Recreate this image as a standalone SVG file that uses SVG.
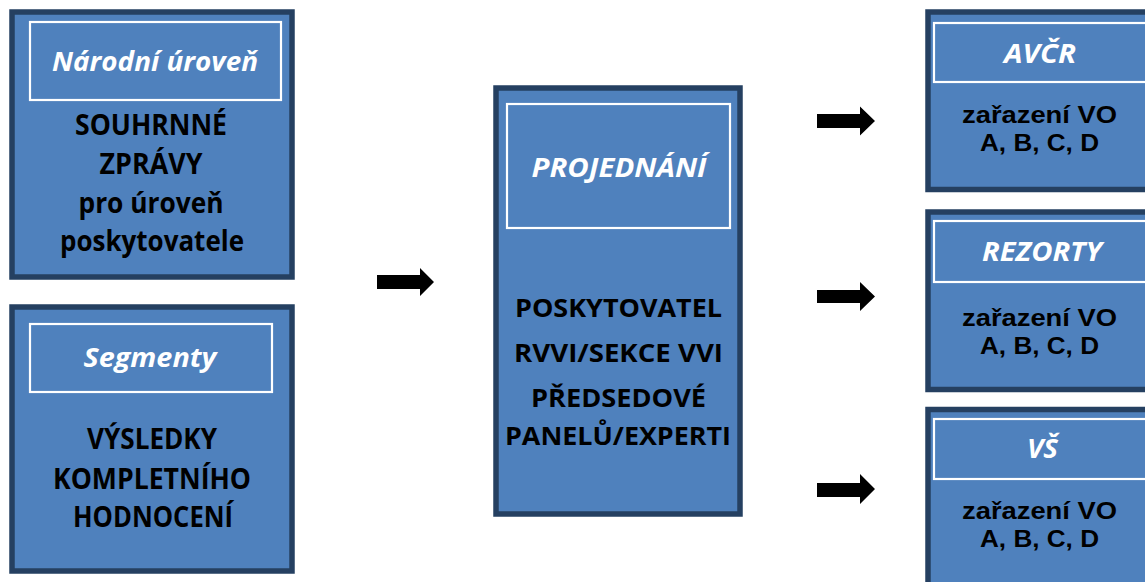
<svg xmlns="http://www.w3.org/2000/svg" width="1145" height="582" viewBox="0 0 1145 582">
<style>
.box{fill:#4F81BD;stroke:#254061;stroke-width:5.5}
.hdr{fill:none;stroke:#FFFFFF;stroke-width:2.2}
.t{font-family:"Open Sans","Liberation Sans",sans-serif;font-weight:bold;fill:#000;text-anchor:middle}
.r{font-family:"Liberation Sans","Open Sans",sans-serif;font-weight:bold;fill:#000;text-anchor:middle;font-size:24px}
.h{font-family:"Open Sans","Liberation Sans",sans-serif;font-weight:bold;font-style:italic;fill:#FFF;text-anchor:middle}
.arr{fill:#000}
</style>
<rect width="1145" height="582" fill="#FFFFFF"/>
<g id="narodni">
<rect class="box" x="12" y="12" width="280" height="265"/>
<rect class="hdr" x="30" y="22" width="251" height="78"/>
<text class="h" x="155" y="71" font-size="26" textLength="206" lengthAdjust="spacingAndGlyphs">Národní úroveň</text>
<text class="t" x="151" y="135" font-size="28" textLength="152" lengthAdjust="spacingAndGlyphs">SOUHRNNÉ</text>
<text class="t" x="151" y="174" font-size="28" textLength="103" lengthAdjust="spacingAndGlyphs">ZPRÁVY</text>
<text class="t" x="151" y="213" font-size="28" textLength="145" lengthAdjust="spacingAndGlyphs">pro úroveň</text>
<text class="t" x="152" y="251" font-size="28" textLength="184" lengthAdjust="spacingAndGlyphs">poskytovatele</text>
</g>
<g id="segmenty">
<rect class="box" x="12" y="307" width="280" height="264"/>
<rect class="hdr" x="30" y="324" width="242" height="68"/>
<text class="h" x="150" y="367" font-size="26" textLength="133" lengthAdjust="spacingAndGlyphs">Segmenty</text>
<text class="t" x="152" y="449" font-size="28" textLength="130" lengthAdjust="spacingAndGlyphs">VÝSLEDKY</text>
<text class="t" x="152" y="489" font-size="28" textLength="198" lengthAdjust="spacingAndGlyphs">KOMPLETNÍHO</text>
<text class="t" x="153" y="527" font-size="28" textLength="160" lengthAdjust="spacingAndGlyphs">HODNOCENÍ</text>
</g>
<g id="projednani">
<rect class="box" x="496" y="88" width="244" height="426"/>
<rect class="hdr" x="507" y="104" width="223" height="124"/>
<text class="h" x="619" y="177" font-size="26" textLength="175" lengthAdjust="spacingAndGlyphs">PROJEDNÁNÍ</text>
<text class="t" x="618.5" y="317" font-size="25" textLength="207" lengthAdjust="spacingAndGlyphs">POSKYTOVATEL</text>
<text class="t" x="618.5" y="362" font-size="25" textLength="209" lengthAdjust="spacingAndGlyphs">RVVI/SEKCE VVI</text>
<text class="t" x="618.5" y="407" font-size="25" textLength="175" lengthAdjust="spacingAndGlyphs">PŘEDSEDOVÉ</text>
<text class="t" x="618" y="445" font-size="25" textLength="226" lengthAdjust="spacingAndGlyphs">PANELŮ/EXPERTI</text>
</g>
<g id="avcr">
<rect class="box" x="928" y="12" width="240" height="177.5"/>
<rect class="hdr" x="934" y="23" width="240" height="59"/>
<text class="h" x="1040" y="63" font-size="26" textLength="72" lengthAdjust="spacingAndGlyphs">AVČR</text>
<text class="r" x="1039.5" y="123" textLength="155" lengthAdjust="spacingAndGlyphs">zařazení VO</text>
<text class="r" x="1039.5" y="150.5" textLength="119" lengthAdjust="spacingAndGlyphs">A, B, C, D</text>
</g>
<g id="rezorty">
<rect class="box" x="928" y="212" width="240" height="177.5"/>
<rect class="hdr" x="934" y="221" width="240" height="61"/>
<text class="h" x="1042" y="261" font-size="26" textLength="120" lengthAdjust="spacingAndGlyphs">REZORTY</text>
<text class="r" x="1039.5" y="326" textLength="155" lengthAdjust="spacingAndGlyphs">zařazení VO</text>
<text class="r" x="1039.5" y="353.5" textLength="119" lengthAdjust="spacingAndGlyphs">A, B, C, D</text>
</g>
<g id="vs">
<rect class="box" x="928" y="409.5" width="240" height="200"/>
<rect class="hdr" x="934" y="419" width="240" height="60"/>
<text class="h" x="1042.5" y="458" font-size="26" textLength="31" lengthAdjust="spacingAndGlyphs">VŠ</text>
<text class="r" x="1039.5" y="519" textLength="155" lengthAdjust="spacingAndGlyphs">zařazení VO</text>
<text class="r" x="1039.5" y="546.5" textLength="119" lengthAdjust="spacingAndGlyphs">A, B, C, D</text>
</g>
<g id="connectors">
<polygon class="arr" points="377,275 420,275 420,268 434,282 420,296 420,289 377,289"/>
<polygon class="arr" points="817,114 860,114 860,106.5 875,121 860,135.5 860,128 817,128"/>
<polygon class="arr" points="817,290 860,290 860,282 875,296.5 860,311 860,303 817,303"/>
<polygon class="arr" points="817,483 860,483 860,474 875,489 860,504 860,497 817,497"/>
</g>
</svg>
